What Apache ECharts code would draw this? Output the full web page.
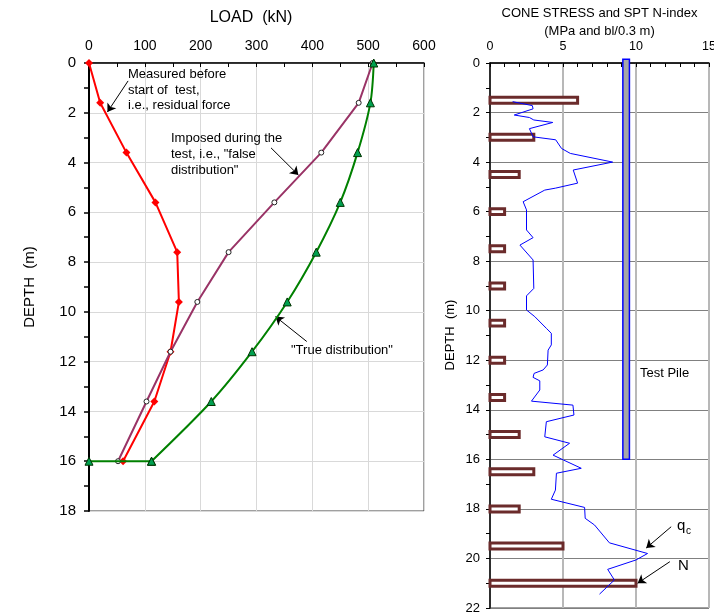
<!DOCTYPE html>
<html><head><meta charset="utf-8">
<script src="https://cdn.jsdelivr.net/npm/echarts@6/dist/echarts.min.js"></script>
<style>html,body{margin:0;padding:0;background:#fff}#c{width:714px;height:615px}</style>
</head><body><div id="c"></div>
<script>
// ---- Left chart: load distribution ----
const loadDepths = [0, 1.6, 3.6, 5.6, 7.6, 9.6, 11.6, 13.6, 16];
const residualLoad = [0, 20, 67, 119, 158, 161, 146, 117, 61];
const falseLoad = [508, 483, 416, 332, 250, 194, 146, 103, 52];
const trueLoad = [510, 504, 481, 450, 407, 355, 292, 219, 112];
const trueToeLoad = [112, 0];
const trueToeDepths = [16, 16];
const loadTicks = [0, 100, 200, 300, 400, 500, 600];

// ---- Right chart: cone stress and SPT N ----
const sptDepths = [1.5, 3.0, 4.5, 6.0, 7.5, 9.0, 10.5, 12.0, 13.5, 15.0, 16.5, 18.0, 19.5, 21.0];
const sptN = [6, 3, 2, 1, 1, 1, 1, 1, 1, 2, 3, 2, 5, 10];
const qcValues = [1.55, 2.9, 2.95, 1.66, 2.7, 3.0, 4.3, 2.7, 2.95, 4.5, 4.9, 5.5, 8.4, 5.7, 6.0, 4.5, 3.75,
  2.27, 2.5, 2.5, 2.95, 2.05, 2.95, 3.0, 2.5, 2.5, 3.07, 3.86, 4.2, 4.2, 3.98, 3.93, 3.64, 3.02, 2.95, 3.41, 3.41, 2.84,
  5.68, 5.75, 3.86, 3.75, 5.45, 4.32, 6.25, 4.55, 4.48, 4.2, 6.48, 6.52, 7.16, 8.18, 10.79, 10.0, 8.06, 8.52, 7.5];
const qcDepths = [1.56, 1.72, 1.85, 2.1, 2.2, 2.3, 2.4, 2.65, 2.98, 3.1, 3.45, 3.65, 4.0, 4.32, 4.85, 5.05, 5.13,
  5.6, 5.93, 6.74, 7.05, 7.35, 7.95, 9.1, 9.4, 9.97, 10.24, 10.71, 10.91, 11.38, 11.59, 12.19, 12.39, 12.53, 12.69, 12.83, 13.2, 13.65,
  13.81, 14.21, 14.48, 15.09, 15.35, 15.83, 16.36, 16.56, 17.24, 17.61, 17.94, 18.38, 18.65, 19.37, 19.8, 20.06, 20.44, 20.87, 21.44];
const pileX = [9.1, 9.55];
const pileDepths = [-0.15, 16];

const FONT = 'Arial, "Liberation Sans", sans-serif';
const pair = (xs, ys) => xs.map((x, i) => [x, ys[i]]);
const arrowLine = (pts) => ({
  silent: true, symbol: ['none', 'arrow'], symbolSize: 8, animation: false,
  lineStyle: { color: '#000', width: 1, type: 'solid' }, label: { show: false },
  emphasis: { disabled: true },
  data: pts.map(p => [{ coord: p[0] }, { coord: p[1] }])
});

const chart = echarts.init(document.getElementById('c'));
const txt = (x, y, text, size, opts = {}) => Object.assign({
  type: 'text', x, y, silent: true, z: 100,
  style: Object.assign({ text, font: size + 'px ' + FONT, fill: '#000',
    textAlign: 'left', align: 'left', textVerticalAlign: 'middle', verticalAlign: 'middle' }, opts.style || {})
}, opts.el || {});

const option = {
  animation: false,
  textStyle: { fontFamily: FONT },
  grid: [
    { left: 89, top: 63, width: 335, height: 448, show: true, borderColor: '#404040', borderWidth: 1, outerBoundsMode: 'none' },
    { left: 490, top: 63, width: 219, height: 545, show: true, borderColor: '#404040', borderWidth: 1, outerBoundsMode: 'none' }
  ],
  xAxis: [
    { gridIndex: 0, type: 'value', position: 'top', min: loadTicks[0], max: loadTicks[loadTicks.length - 1], interval: 100,
      axisLine: { show: true, onZero: false, lineStyle: { color: '#000', width: 1.5 } },
      axisTick: { show: true, inside: true, length: 4, lineStyle: { color: '#000' } },
      minorTick: { show: true, splitNumber: 2, length: 4, lineStyle: { color: '#000' } },
      axisLabel: { fontSize: 14, color: '#000', margin: 10, fontFamily: FONT },
      splitLine: { show: true, lineStyle: { color: '#d9d9d9', width: 1 } } },
    { gridIndex: 1, type: 'value', position: 'top', min: 0, max: 15, interval: 5,
      axisLine: { show: true, onZero: false, lineStyle: { color: '#000', width: 1.5 } },
      axisTick: { show: true, inside: true, length: 4, lineStyle: { color: '#000' } },
      minorTick: { show: true, splitNumber: 5, length: 4, lineStyle: { color: '#000' } },
      axisLabel: { fontSize: 12.5, color: '#000', margin: 10, fontFamily: FONT },
      splitLine: { show: true, lineStyle: { color: '#b8b8b8', width: 2 } } }
  ],
  yAxis: [
    { gridIndex: 0, type: 'value', inverse: true, min: 0, max: 18, interval: 2,
      axisLine: { show: true, onZero: false, lineStyle: { color: '#000', width: 2 } },
      axisTick: { show: true, length: 5, lineStyle: { color: '#000', width: 1.5 } },
      minorTick: { show: true, splitNumber: 2, length: 5, lineStyle: { color: '#000', width: 1.5 } },
      axisLabel: { fontSize: 15, color: '#000', margin: 13, fontFamily: FONT },
      splitLine: { show: true, lineStyle: { color: '#d9d9d9', width: 1 } } },
    { gridIndex: 1, type: 'value', inverse: true, min: 0, max: 22, interval: 2,
      axisLine: { show: true, onZero: false, lineStyle: { color: '#000', width: 1.5 } },
      axisTick: { show: true, length: 4, lineStyle: { color: '#000', width: 1 } },
      minorTick: { show: true, splitNumber: 2, length: 4, lineStyle: { color: '#000', width: 1 } },
      axisLabel: { fontSize: 13, color: '#000', margin: 10, fontFamily: FONT },
      splitLine: { show: true, lineStyle: { color: '#808080', width: 1 } } }
  ],
  series: [
    { type: 'line', xAxisIndex: 0, yAxisIndex: 0, data: pair(residualLoad, loadDepths),
      symbol: 'diamond', symbolSize: 8, itemStyle: { color: '#ff0000' },
      lineStyle: { color: '#ff0000', width: 2 }, z: 3,
      markLine: arrowLine([[[70, 0.72], [33, 1.97]]]) },
    { type: 'line', xAxisIndex: 0, yAxisIndex: 0, data: pair(falseLoad, loadDepths),
      symbol: 'circle', symbolSize: 5, itemStyle: { color: '#fff', borderColor: '#222', borderWidth: 1 },
      lineStyle: { color: '#993366', width: 2 }, z: 4,
      markLine: arrowLine([[[326, 3.41], [375, 4.5]]]) },
    { type: 'line', xAxisIndex: 0, yAxisIndex: 0, data: pair(trueLoad, loadDepths), smooth: 0.3,
      symbol: 'triangle', symbolSize: 8, itemStyle: { color: '#00a050', borderColor: '#003300', borderWidth: 1 },
      lineStyle: { color: '#008000', width: 2 }, z: 5,
      markLine: arrowLine([[[390, 11.19], [334, 10.19]]]) },
    { type: 'line', xAxisIndex: 0, yAxisIndex: 0, data: pair(trueToeLoad, trueToeDepths),
      symbol: 'triangle', symbolSize: 8, itemStyle: { color: '#00a050', borderColor: '#003300', borderWidth: 1 },
      lineStyle: { color: '#008000', width: 2 }, z: 5 },
    { type: 'custom', xAxisIndex: 1, yAxisIndex: 1, data: pair(sptN, sptDepths), clip: false, z: 3,
      encode: { x: 0, y: 1 },
      renderItem: (params, api) => {
        const n = api.value(0), d = api.value(1);
        const p0 = api.coord([0, d]), p1 = api.coord([n, d]);
        const h = api.size([0, 0.24])[1];
        return { type: 'rect', shape: { x: p0[0], y: p0[1] - h / 2, width: p1[0] - p0[0], height: h },
          style: { fill: '#fff', stroke: '#6b2b2b', lineWidth: 3 } };
      } },
    { type: 'custom', xAxisIndex: 1, yAxisIndex: 1, data: [[pileX[0], pileX[1], pileDepths[0], pileDepths[1]]], clip: false, z: 3,
      encode: { x: [0, 1], y: [2, 3] },
      renderItem: (params, api) => {
        const a = api.coord([api.value(0), api.value(2)]), b = api.coord([api.value(1), api.value(3)]);
        return { type: 'rect', shape: { x: a[0], y: a[1], width: b[0] - a[0], height: b[1] - a[1] },
          style: { fill: '#a6a6a6', stroke: '#0000ff', lineWidth: 1.5 } };
      } },
    { type: 'line', xAxisIndex: 1, yAxisIndex: 1, data: pair(qcValues, qcDepths), symbol: 'none',
      lineStyle: { color: '#0000ff', width: 1 }, z: 4,
      markLine: arrowLine([[[12.41, 18.72], [10.7, 19.58]], [[12.32, 20.13], [10.11, 21.0]]]) }
  ],
  graphic: [
    txt(251, 18, 'LOAD  (kN)', 16, { style: { textAlign: 'center', align: 'center' } }),
    txt(30, 287, 'DEPTH  (m)', 15, { style: { textAlign: 'center', align: 'center' }, el: { rotation: Math.PI / 2 } }),
    txt(128, 67, 'Measured before\nstart of  test,\ni.e., residual force', 13,
      { style: { textVerticalAlign: 'top', verticalAlign: 'top', lineHeight: 15.5 } }),
    txt(171, 130, 'Imposed during the\ntest, i.e., "false\ndistribution"', 13,
      { style: { textVerticalAlign: 'top', verticalAlign: 'top', lineHeight: 16 } }),
    txt(291, 350, '"True distribution"', 13),
    txt(599.5, 13, 'CONE STRESS and SPT N-index', 13, { style: { textAlign: 'center', align: 'center' } }),
    txt(599.5, 31, '(MPa and bl/0.3 m)', 13, { style: { textAlign: 'center', align: 'center' } }),
    txt(450, 335, 'DEPTH  (m)', 13, { style: { textAlign: 'center', align: 'center' }, el: { rotation: Math.PI / 2 } }),
    txt(640, 373, 'Test Pile', 13),
    txt(677, 526, 'q', 15),
    txt(686, 531, 'c', 10),
    txt(678, 566, 'N', 15)
  ]
};
chart.setOption(option);
</script></body></html>
